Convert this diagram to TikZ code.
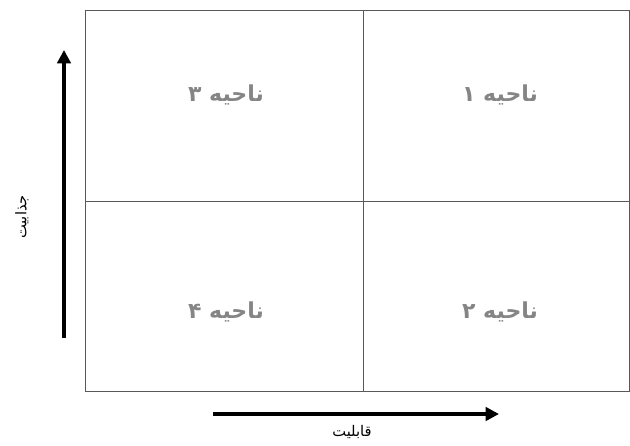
\documentclass[tikz,border=0pt]{standalone}
\usepackage{fontspec}
\usetikzlibrary{arrows.meta}
\TeXXeTstate=1
\newfontfamily\arabicfont[Script=Arabic]{DejaVu Sans}
\begin{document}
\begin{tikzpicture}[x=0.75pt,y=0.75pt,
  zone/.style={font=\arabicfont\bfseries\fontsize{16.5}{19}\selectfont, text=black!48},
  axislabel/.style={font=\arabicfont\fontsize{11}{13}\selectfont},
  axisarrow/.style={line width=3pt, -{Triangle[length=10pt,width=10pt]}},
  gridline/.style={draw=black!65, line width=0.6pt}]
\useasboundingbox (0,0) rectangle (630,-445);

\draw[gridline] (85,-10) rectangle (629,-391);
\draw[gridline] (363,-10) -- (363,-391);
\draw[gridline] (85,-201) -- (629,-201);

\node[zone] (z1) at (500,-95) {\beginR ناحیه ۱\endR};
\node[zone] (z2) at (500,-312) {\beginR ناحیه ۲\endR};
\node[zone] (z3) at (226,-95) {\beginR ناحیه ۳\endR};
\node[zone] (z4) at (226,-312) {\beginR ناحیه ۴\endR};

\coordinate (ybot) at (64,-338);
\coordinate (ytop) at (64,-50);
\coordinate (xleft) at (213,-414);
\coordinate (xright) at (499,-414);
\draw[axisarrow] (ybot) -- (ytop);
\draw[axisarrow] (xleft) -- (xright);

\node[axislabel] (xlab) at (352,-432) {\beginR قابلیت\endR};
\node[axislabel, rotate=90] (ylab) at (22,-217) {\beginR جذابیت\endR};
\end{tikzpicture}
\end{document}
